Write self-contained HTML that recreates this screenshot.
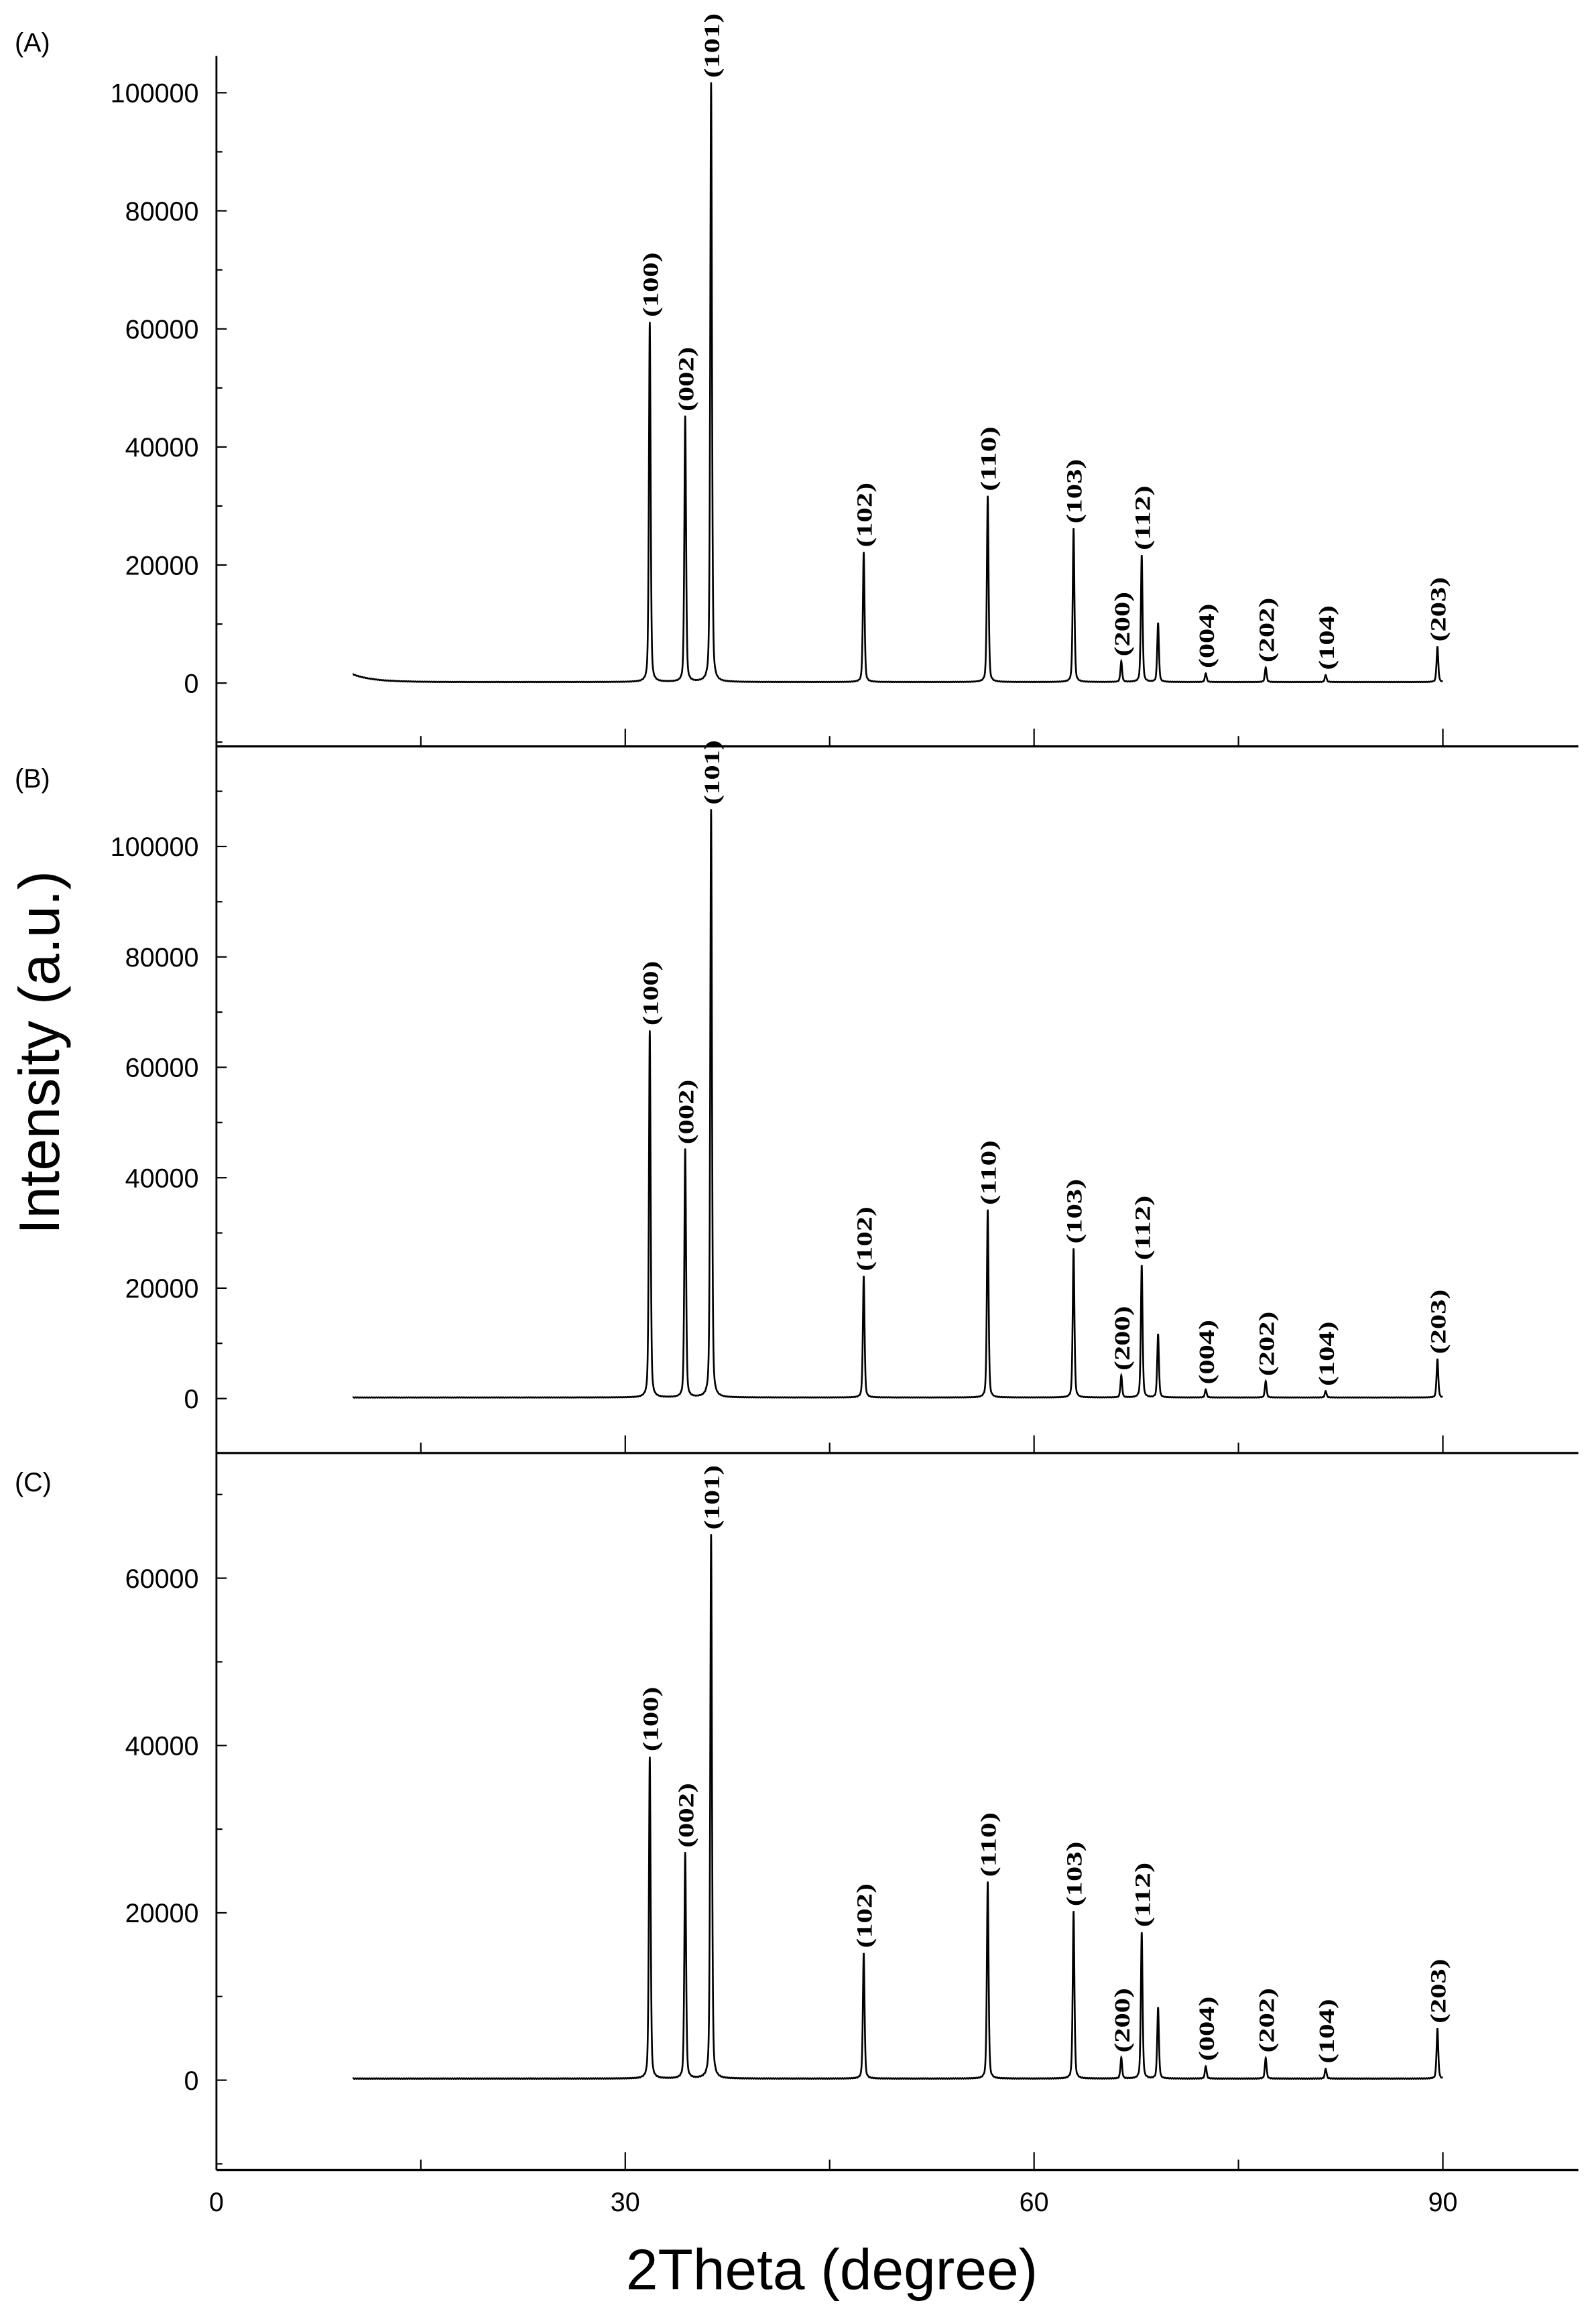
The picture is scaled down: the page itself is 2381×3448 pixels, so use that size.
<!DOCTYPE html>
<html><head><meta charset="utf-8">
<style>html,body{margin:0;padding:0;background:#fff}svg{display:block}</style>
</head><body>
<svg id="s" width="2381" height="3448" viewBox="0 0 1084 1569.8" preserveAspectRatio="none" xmlns="http://www.w3.org/2000/svg">
<g id="g" font-family="Liberation Sans, Arial, sans-serif"></g>
</svg>
<script>
const NS="http://www.w3.org/2000/svg";
const g=document.getElementById('g');
function el(t,a,txt){const e=document.createElementNS(NS,t);for(const k in a)e.setAttribute(k,a[k]);if(txt!==undefined)e.textContent=txt;g.appendChild(e);return e;}
const X0=147,SX=(980-147)/90;
const xp=d=>X0+d*SX;
const peaks=[[31.8,'(100)'],[34.4,'(002)'],[36.3,'(101)'],[47.5,'(102)'],[56.6,'(110)'],[62.9,'(103)'],[66.4,'(200)'],[67.9,'(112)'],[69.1,null],[72.6,'(004)'],[77.0,'(202)'],[81.4,'(104)'],[89.6,'(203)']];
const panels=[
 {lab:'(A)',ly:27,y0:464,k:401/100000,top:38,bot:507,max:100000,h:[61000,45000,101500,22000,31500,26000,3500,21500,10000,1500,2500,1200,6000],bump:true},
 {lab:'(B)',ly:527,y0:950,k:375/100000,top:507,bot:987,max:100000,h:[66500,45000,106500,22000,34000,27000,4000,24000,11500,1500,3000,1200,7000]},
 {lab:'(C)',ly:1005,y0:1413,k:341/60000,top:987,bot:1474,max:60000,h:[38500,27000,65000,15000,23500,20000,2500,17500,8500,1500,2500,1200,6000]}
];
panels.forEach(p=>{
 const vy=v=>p.y0-v*p.k;
 el('line',{x1:X0,y1:p.top,x2:X0,y2:p.bot,stroke:'#000','stroke-width':1.3});
 el('line',{x1:X0,y1:p.bot,x2:1072,y2:p.bot,stroke:'#000','stroke-width':1.5});
 el('text',{x:10,y:p.ly+8,'font-size':18},p.lab);
 for(let v=-20000;v<=130000;v+=10000){
  const y=vy(v); if(y<p.top+2||y>p.bot-2)continue;
  const maj=v%20000===0;
  el('line',{x1:X0,y1:y,x2:X0+(maj?7:4),y2:y,stroke:'#000','stroke-width':1});
  if(maj&&v<=p.max) el('text',{x:135,y:y+6.5,'font-size':18,'text-anchor':'end'},String(v));
 }
 for(let d=15;d<=90;d+=15){
  const maj=d%30===0;
  el('line',{x1:xp(d),y1:p.bot,x2:xp(d),y2:p.bot-(maj?12:7),stroke:'#000','stroke-width':1});
 }
 let pts=[];
 for(let d=10;d<=90;d+=0.01){
  let v=150+ (Math.sin(d*37.1)*0.5+0.5)*80;
  if(p.bump) v+=1300*Math.exp(-(d-10)/1.5);
  peaks.forEach((pk,i)=>{const w=0.08;const t=(d-pk[0])/w;v+=p.h[i]*(0.5*Math.exp(-0.693*t*t)+0.5/(1+t*t*1.5));});
  pts.push(xp(d).toFixed(2)+','+vy(v).toFixed(2));
 }
 el('polyline',{points:pts.join(' '),fill:'none',stroke:'#000','stroke-width':1.2});
 peaks.forEach((pk,i)=>{
  if(!pk[1])return;
  const x=xp(pk[0]), y=vy(p.h[i]+250)-3;
  el('text',{x:0,y:0,'font-size':15,'font-weight':'bold','font-family':'Liberation Serif, serif',textLength:44,lengthAdjust:'spacingAndGlyphs',transform:`translate(${x+5.5},${y}) rotate(-90)`},pk[1]);
 });
});
[0,30,60,90].forEach(d=>el('text',{x:xp(d),y:1502,'font-size':18,'text-anchor':'middle'},String(d)));
el('text',{x:565,y:1555,'font-size':39,'text-anchor':'middle'},'2Theta (degree)');
el('text',{x:0,y:0,'font-size':39,'text-anchor':'middle',transform:'translate(40,715) rotate(-90)'},'Intensity (a.u.)');
</script>
</body></html>
